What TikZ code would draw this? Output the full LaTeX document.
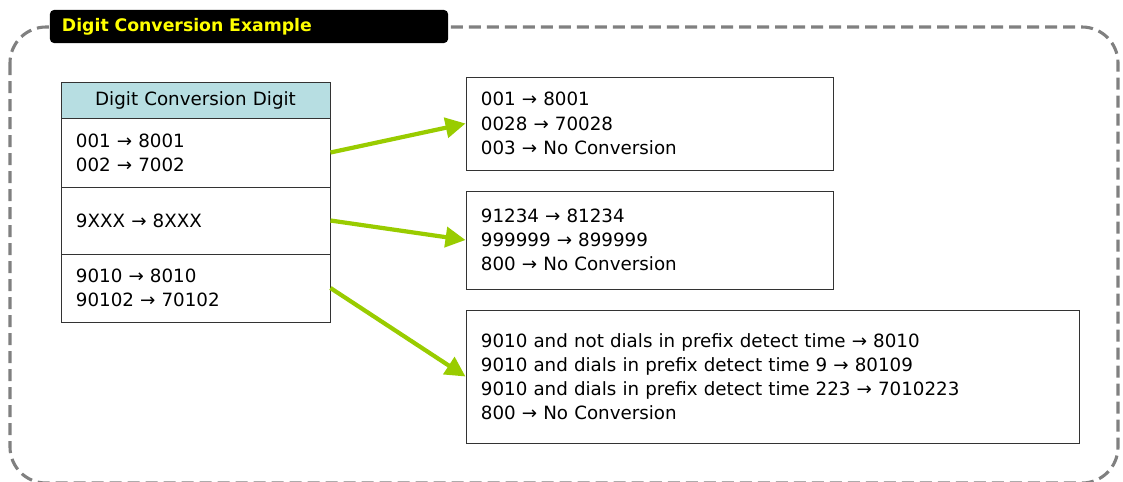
\documentclass[tikz,border=0pt]{standalone}
\usepackage{fontspec}
\setmainfont{DejaVu Sans}
\usetikzlibrary{arrows.meta}
\definecolor{framegray}{RGB}{128,128,128}
\definecolor{headblue}{RGB}{183,222,226}
\definecolor{arrowgreen}{RGB}{153,204,0}
\definecolor{titleyellow}{RGB}{255,255,0}
\begin{document}
\begin{tikzpicture}[x=0.025cm, y=-0.025cm,
    every node/.style={font=\fontsize{13}{17.2}\selectfont},
    cell/.style={draw=black!80, line width=0.6pt, rectangle, minimum width=6.725cm, text width=5.975cm, inner xsep=0.375cm, align=left},
    result/.style={draw=black!80, line width=0.6pt, rectangle, inner xsep=0.375cm, align=left},
    conv/.style={draw=arrowgreen, line width=3pt, -{Triangle[length=0.5cm, width=0.5cm]}}]
    \useasboundingbox (0,0) rectangle (1123,481);
    % outer frame
    \draw[framegray, line width=2.2pt, dash pattern=on 0.3cm off 0.15cm, rounded corners=0.9cm] (10,27) rectangle (1118,483);
    \node[fill=black, rounded corners=0.1cm, minimum width=9.95cm, minimum height=0.825cm, text width=9.35cm, inner xsep=0.3cm, align=left, text=titleyellow, font=\fontsize{12.3}{14}\selectfont\bfseries] (title) at (249,26.5) {Digit Conversion Example};
    % table
    \node[cell, fill=headblue, minimum height=0.9cm, align=center] (hdr) at (195.5,100) {Digit Conversion Digit};
    \node[cell, minimum height=1.725cm] (rowa) at (195.5,152.5) {001 → 8001\\002 → 7002};
    \node[cell, minimum height=1.675cm] (rowb) at (195.5,220.5) {9XXX → 8XXX};
    \node[cell, minimum height=1.7cm] (rowc) at (195.5,288) {9010 → 8010\\90102 → 70102};
    % results
    \node[result, minimum width=9.175cm, text width=8.425cm, minimum height=2.325cm] (resa) at (649.5,123.5) {001 → 8001\\0028 → 70028\\003 → No Conversion};
    \node[result, minimum width=9.175cm, text width=8.425cm, minimum height=2.45cm] (resb) at (649.5,240) {91234 → 81234\\999999 → 899999\\800 → No Conversion};
    \node[result, minimum width=15.325cm, text width=14.575cm, minimum height=3.325cm] (resc) at (772.5,376.5) {9010 and not dials in prefix detect time → 8010\\9010 and dials in prefix detect time 9 → 80109\\9010 and dials in prefix detect time 223 → 7010223\\800 → No Conversion};
    \draw[conv] (rowa.east) -- (resa.west);
    \draw[conv] (rowb.east) -- (resb.west);
    \draw[conv] (rowc.east) -- (resc.west);
\end{tikzpicture}
\end{document}
